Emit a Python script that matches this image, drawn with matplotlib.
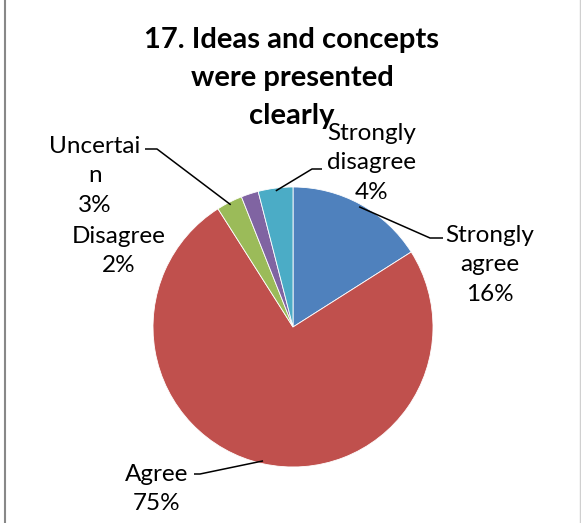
import matplotlib
matplotlib.use("Agg")
import matplotlib.pyplot as plt
from matplotlib.lines import Line2D
import numpy as np

# Survey responses for question 17
categories = ["Strongly agree", "Agree", "Uncertain", "Disagree", "Strongly disagree"]
percent = [16, 75, 3, 2, 4]
label_text = ["Strongly\nagree\n16%", "Agree\n75%", "Uncertai\nn\n3%",
              "Disagree\n2%", "Strongly\ndisagree\n4%"]
colors = ["#4F81BD", "#C0504D", "#9BBB59", "#8064A2", "#4BACC6"]
title = "17. Ideas and concepts\nwere presented\nclearly"

W, H = 581, 523
fig = plt.figure(figsize=(W / 100, H / 100), dpi=100)
fig.patch.set_facecolor("white")

# pie placement in pixels
cx, cy, r = 293, 327, 140
ax = fig.add_axes([(cx - r) / W, (H - cy - r) / H, 2 * r / W, 2 * r / H])
wedges, _ = ax.pie(percent, colors=colors, startangle=90, counterclock=False,
                   radius=1, wedgeprops=dict(linewidth=0.6, edgecolor="white"))
ax.set_xlim(-1, 1)
ax.set_ylim(-1, 1)
ax.set_aspect("equal")
ax.axis("off")


def px(x, y):
    """pixel position -> pie data coordinates"""
    return (x - cx) / r, (cy - y) / r


FONT = "Lato"
LABEL_SIZE = 17.5

# label block centres and leader elbows (pixels)
label_pos = {
    "Strongly agree": (490, 265),
    "Agree": (157, 489),
    "Uncertain": (95, 176),
    "Disagree": (119, 251),
    "Strongly disagree": (372, 163),
}
leader = {
    "Strongly agree": [(430, 238), (443, 238)],
    "Agree": [(200, 474), (194, 474)],
    "Uncertain": [(157, 149), (145, 149)],
    "Strongly disagree": [(312, 169), (322, 169)],
}

for w, cat, txt in zip(wedges, categories, label_text):
    lx, ly = px(*label_pos[cat])
    ax.text(lx, ly, txt, ha="center", va="center", fontsize=LABEL_SIZE,
            family=FONT, color="black", linespacing=1.5, clip_on=False)
    if cat in leader:
        mid = np.deg2rad((w.theta1 + w.theta2) / 2)
        start = (0.98 * np.cos(mid), 0.98 * np.sin(mid))
        pts = [start] + [px(*p) for p in leader[cat]]
        xs, ys = zip(*pts)
        ax.plot(xs, ys, color="black", lw=1.1, clip_on=False,
                solid_capstyle="butt")

fig.text(292 / W, 1 - 78 / H, title, ha="center", va="center",
         fontsize=21, fontweight="bold", family=FONT, linespacing=1.55)

# frame edges
fig.add_artist(Line2D([4.5 / W, 4.5 / W], [0, 1], color="#888888", lw=1.5,
                      transform=fig.transFigure))
fig.add_artist(Line2D([580 / W, 580 / W], [0, 1], color="#d0d0d0", lw=1.0,
                      transform=fig.transFigure))

fig.savefig("out.png", dpi=100, facecolor="white")
